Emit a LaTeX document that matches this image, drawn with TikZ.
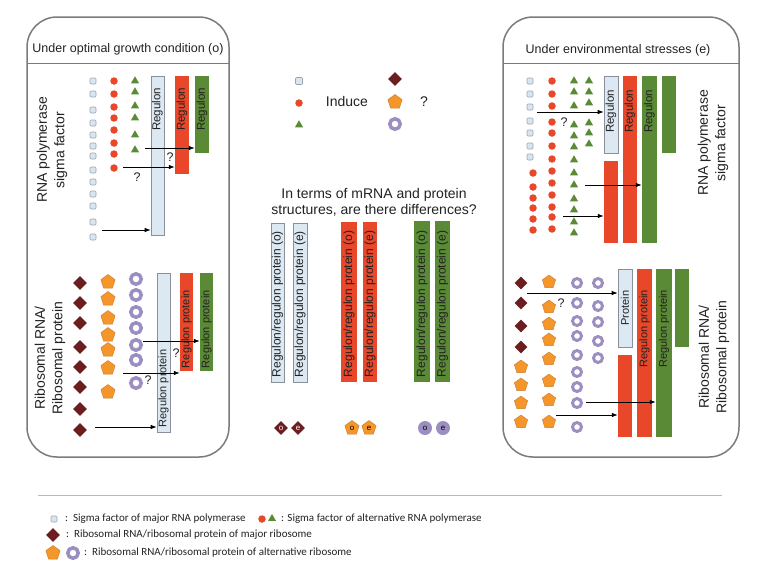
\documentclass[tikz,border=0pt]{standalone}
\usepackage{fontspec}
\setmainfont{Liberation Sans}
\newfontfamily\legfont{Carlito}
\usetikzlibrary{shapes.geometric,arrows.meta}
\definecolor{panelgray}{HTML}{7F7A75}
\definecolor{sqfill}{HTML}{D9E6F0}
\definecolor{sqborder}{HTML}{98A6B3}
\definecolor{barblue}{HTML}{DCE8F2}
\definecolor{bargray}{HTML}{8A9099}
\definecolor{redA}{HTML}{E9472A}
\definecolor{greenA}{HTML}{5A8A35}
\definecolor{darkredA}{HTML}{6B1D20}
\definecolor{orangeA}{HTML}{F5962B}
\definecolor{orangeB}{HTML}{C97A2A}
\definecolor{lavA}{HTML}{9D8EC1}
\definecolor{legline}{HTML}{E8A3A3}
\definecolor{txtA}{HTML}{222222}
\begin{document}
\begin{tikzpicture}[x=1pt,y=-1pt,
  panel/.style={draw=panelgray, line width=1.5pt, rounded corners=30pt},
  sepline/.style={draw=panelgray, line width=0.8pt},
  sq/.style={rectangle, draw=sqborder, fill=sqfill, minimum size=6pt, inner sep=0pt, rounded corners=1pt, line width=0.6pt},
  rdot/.style={circle, fill=redA, minimum size=7.5pt, inner sep=0pt},
  tri/.style={regular polygon, regular polygon sides=3, fill=greenA, minimum size=9.5pt, inner sep=0pt},
  dia/.style={diamond, fill=darkredA, minimum width=14pt, minimum height=14pt, inner sep=0pt},
  pent/.style={regular polygon, regular polygon sides=5, fill=orangeA, draw=orangeB, line width=0.4pt, minimum size=15pt, inner sep=0pt},
  ring/.style={circle, draw=lavA, line width=3.5pt, fill=white, minimum size=10.5pt, inner sep=0pt},
  rings/.style={circle, draw=lavA, line width=3pt, fill=white, minimum size=9pt, inner sep=0pt},
  bluebar/.style={rectangle, draw=bargray, fill=barblue, inner sep=0pt, line width=0.6pt},
  redbar/.style={rectangle, fill=redA, inner sep=0pt},
  greenbar/.style={rectangle, fill=greenA, inner sep=0pt},
  bartxt/.style={inner sep=0pt, text=txtA, font=\fontsize{11.5}{12}\selectfont},
  bartxtp/.style={inner sep=0pt, text=txtA, font=\fontsize{11}{12}\selectfont},
  bartxtc/.style={inner sep=0pt, text=txtA, font=\fontsize{12}{13}\selectfont},
  sidelbl/.style={rotate=90, align=center, text=txtA, inner sep=0pt, font=\fontsize{14}{17.5}\selectfont},
  ttl/.style={text=txtA, inner sep=0pt, font=\fontsize{12.5}{14}\selectfont},
  qm/.style={text=txtA, inner sep=0pt, font=\fontsize{12.5}{14}\selectfont},
  arr/.style={-{Latex[length=6pt,width=4.5pt]}, line width=0.8pt, draw=black},
  legtxt/.style={anchor=west, inner sep=0pt, text=txtA, font=\legfont\fontsize{11}{12}\selectfont}
]
\useasboundingbox (0,0) rectangle (766,574);

% ---------------- left panel ----------------
\draw[panel] (27,17) rectangle (229,457);
\coordinate (lsepA) at (27,63);
\coordinate (lsepB) at (229,63);
\draw[sepline] (lsepA) -- (lsepB);
\node[ttl] (ltitle) at (128,49) {Under optimal growth condition (o)};

\node[sidelbl] (lside1) at (52,150) {RNA polymerase\\sigma factor};
\node[sidelbl] (lside2) at (50,358) {Ribosomal RNA/\\Ribosomal protein};

% top bars
\node[bluebar, minimum width=13pt, minimum height=159pt] (ltb) at (157.5,155.5) {};
\node[redbar, minimum width=14pt, minimum height=98pt] (ltr) at (182,125) {};
\node[greenbar, minimum width=14pt, minimum height=77pt] (ltg) at (202,114.5) {};
\node[bartxt, rotate=90, anchor=east] (ltbt) at ([yshift=-12pt]ltb.north) {Regulon};
\node[bartxt, rotate=90, anchor=east] (ltrt) at ([yshift=-12pt]ltr.north) {Regulon};
\node[bartxt, rotate=90, anchor=east] (ltgt) at ([yshift=-12pt]ltg.north) {Regulon};

\foreach \yy [count=\i] in {81,94,110,123,135,146,156,170,182,194,206,222,237}
  \node[sq] (lsq\i) at (93,\yy) {};
\foreach \yy [count=\i] in {81,94,107,118,130,143,154,168}
  \node[rdot] (lrd\i) at (114,\yy) {};
\foreach \yy [count=\i] in {81,92,106,118,135,150}
  \node[tri] (ltr\i) at (135,\yy) {};

\coordinate (la1) at (145,148);
\coordinate (la2) at (123,167);
\coordinate (la3) at (102,230);
\draw[arr] (la1) -- (la1 -| ltg.west);
\draw[arr] (la2) -- (la2 -| ltr.west);
\draw[arr] (la3) -- (la3 -| ltb.west);
\node[qm] (lq1) at (170,157) {?};
\node[qm] (lq2) at (137,177) {?};

% bottom bars
\node[bluebar, minimum width=13pt, minimum height=159pt] (lbb) at (163.5,352.5) {};
\node[redbar, minimum width=13pt, minimum height=98pt] (lbr) at (186.5,322) {};
\node[greenbar, minimum width=13pt, minimum height=98pt] (lbg) at (206.5,322) {};
\node[bartxtp, rotate=90, anchor=west] (lbbt) at ([yshift=5pt]lbb.south) {Regulon protein};
\node[bartxtp, rotate=90, anchor=west] (lbrt) at ([yshift=3pt]lbr.south) {Regulon protein};
\node[bartxtp, rotate=90, anchor=west] (lbgt) at ([yshift=3pt]lbg.south) {Regulon protein};

\foreach \yy [count=\i] in {283,303,323,347,367,387,409,430}
  \node[dia] (ldi\i) at (80,\yy) {};
\foreach \yy [count=\i] in {282,299,318,335,350,368,392}
  \node[pent] (lpe\i) at (108,\yy) {};
\foreach \yy [count=\i] in {279,295,312,328,345,360,383}
  \node[ring] (lri\i) at (136,\yy) {};

\coordinate (lb1) at (143,341);
\coordinate (lb2) at (123,373);
\coordinate (lb3) at (95,427);
\draw[arr] (lb1) -- (lb1 -| lbg.west);
\draw[arr] (lb2) -- (lb2 -| lbr.west);
\draw[arr] (lb3) -- (lb3 -| lbb.west);
\node[qm] (lq3) at (176,353) {?};
\node[qm] (lq4) at (148,380) {?};

% ---------------- center ----------------
\node[sq, minimum size=7pt] (csq) at (299,81) {};
\node[rdot] (crd) at (299,103) {};
\node[tri] (ctr) at (299,125) {};
\node[inner sep=0pt, text=txtA, font=\fontsize{14}{16}\selectfont] (cind) at (347,101) {Induce};
\node[dia] (cdi) at (395,79) {};
\node[pent] (cpe) at (395,102) {};
\node[ring] (cri) at (395,124) {};
\node[qm, font=\fontsize{14}{16}\selectfont] (cq) at (424,102) {?};

\node[align=center, inner sep=0pt, text=txtA, font=\fontsize{14}{16}\selectfont] (cquest) at (374,202)
  {In terms of mRNA and protein\\structures, are there differences?};

\node[bluebar, minimum width=13pt, minimum height=159pt] (cb1) at (277.5,302.5) {};
\node[bluebar, minimum width=14pt, minimum height=159pt] (cb2) at (300,302.5) {};
\node[redbar, minimum width=16pt, minimum height=160pt] (cr1) at (349,302) {};
\node[redbar, minimum width=14pt, minimum height=160pt] (cr2) at (370,302) {};
\node[greenbar, minimum width=16pt, minimum height=161pt] (cg1) at (422,301.5) {};
\node[greenbar, minimum width=15pt, minimum height=161pt] (cg2) at (442.5,301.5) {};
\node[bartxtc, rotate=90, anchor=west] (cb1t) at ([yshift=5pt]cb1.south) {Regulon/regulon protein (o)};
\node[bartxtc, rotate=90, anchor=west] (cb2t) at ([yshift=5pt]cb2.south) {Regulon/regulon protein (e)};
\node[bartxtc, rotate=90, anchor=west] (cr1t) at ([yshift=5pt]cr1.south) {Regulon/regulon protein (o)};
\node[bartxtc, rotate=90, anchor=west] (cr2t) at ([yshift=5pt]cr2.south) {Regulon/regulon protein (e)};
\node[bartxtc, rotate=90, anchor=west] (cg1t) at ([yshift=5pt]cg1.south) {Regulon/regulon protein (o)};
\node[bartxtc, rotate=90, anchor=west] (cg2t) at ([yshift=5pt]cg2.south) {Regulon/regulon protein (e)};

\node[dia, minimum width=14pt, minimum height=14pt, text=white, font=\fontsize{8}{8}\selectfont] (cdo) at (281,428) {o};
\node[dia, minimum width=14pt, minimum height=14pt, text=white, font=\fontsize{8}{8}\selectfont] (cde) at (298,428) {e};
\node[pent, text=black, font=\fontsize{8}{8}\selectfont] (cpo) at (352,428) {o};
\node[pent, text=black, font=\fontsize{8}{8}\selectfont] (cpeo) at (369,428) {e};
\node[circle, fill=lavA, minimum size=14pt, inner sep=0pt, text=black, font=\fontsize{8}{8}\selectfont] (cco) at (425,428) {o};
\node[circle, fill=lavA, minimum size=14pt, inner sep=0pt, text=black, font=\fontsize{8}{8}\selectfont] (cce) at (443,428) {e};

% ---------------- right panel ----------------
\draw[panel] (503,17) rectangle (739,457);
\coordinate (rsepA) at (503,63);
\coordinate (rsepB) at (739,63);
\draw[sepline] (rsepA) -- (rsepB);
\node[ttl] (rtitle) at (618,50) {Under environmental stresses (e)};

\node[sidelbl] (rside1) at (713,143) {RNA polymerase\\sigma factor};
\node[sidelbl] (rside2) at (714,357) {Ribosomal RNA/\\Ribosomal protein};

% top bars
\node[bluebar, minimum width=14pt, minimum height=77pt] (rtb) at (611,114.5) {};
\node[redbar, minimum width=14pt, minimum height=167pt] (rtr) at (630,159.5) {};
\node[greenbar, minimum width=15pt, minimum height=167pt] (rtg) at (649.5,159.5) {};
\node[greenbar, minimum width=14pt, minimum height=77pt] (rtg2) at (669,114.5) {};
\node[redbar, minimum width=14pt, minimum height=82pt] (rtr2) at (611,202) {};
\node[bartxt, rotate=90, anchor=east] (rtbt) at ([yshift=-14pt]rtb.north) {Regulon};
\node[bartxt, rotate=90, anchor=east] (rtrt) at ([yshift=-14pt]rtr.north) {Regulon};
\node[bartxt, rotate=90, anchor=east] (rtgt) at ([yshift=-14pt]rtg.north) {Regulon};

\foreach \yy [count=\i] in {81,94,107,121,133,146,157}
  \node[sq] (rsq\i) at (530,\yy) {};
\foreach \yy [count=\i] in {173,187,198,208,219,230}
  \node[rdot] (rrda\i) at (533,\yy) {};
\foreach \yy [count=\i] in {81,94,106,122,133,146,159,171,183,195,207,217,229}
  \node[rdot] (rrdb\i) at (552,\yy) {};
\foreach \yy [count=\i] in {81,92,106,125,136,147,160,173,185,199,210,222,233}
  \node[tri] (rtra\i) at (574,\yy) {};
\foreach \yy [count=\i] in {81,92,103,123,133,144}
  \node[tri] (rtrb\i) at (589,\yy) {};

\coordinate (ra1) at (537,112);
\coordinate (ra2) at (585,185);
\coordinate (ra3) at (563,216);
\draw[arr] (ra1) -- (ra1 -| rtb.west);
\draw[arr] (ra2) -- (ra2 -| rtg.west);
\draw[arr] (ra3) -- (ra3 -| rtr2.west);
\node[qm] (rq1) at (564,122) {?};

% bottom bars
\node[bluebar, minimum width=14pt, minimum height=78pt] (rbb) at (625,308) {};
\node[redbar, minimum width=15pt, minimum height=168pt] (rbr) at (644.5,353) {};
\node[greenbar, minimum width=16pt, minimum height=168pt] (rbg) at (664,353) {};
\node[greenbar, minimum width=14pt, minimum height=78pt] (rbg2) at (682,308) {};
\node[redbar, minimum width=14pt, minimum height=82pt] (rbr2) at (625,396) {};
\node[bartxtp, rotate=90] (rbbt) at (rbb.center) {Protein};
\node[bartxtp, rotate=90, anchor=east] (rbrt) at ([yshift=-21pt]rbr.north) {Regulon protein};
\node[bartxtp, rotate=90, anchor=east] (rbgt) at ([yshift=-21pt]rbg.north) {Regulon protein};

\foreach \yy [count=\i] in {283,303,326,347}
  \node[dia, minimum width=13pt, minimum height=13pt] (rdi\i) at (521,\yy) {};
\foreach \yy [count=\i] in {367,385,403,422}
  \node[pent, minimum size=14pt] (rpea\i) at (521,\yy) {};
\foreach \yy [count=\i] in {282,307,324,340,359,381,400,422}
  \node[pent, minimum size=14pt] (rpeb\i) at (549,\yy) {};
\foreach \yy [count=\i] in {283,303,321,336,355,372,387,403,427}
  \node[rings] (rria\i) at (577,\yy) {};
\foreach \yy [count=\i] in {283,306,322,341,358}
  \node[rings] (rrib\i) at (598,\yy) {};

\coordinate (rb1) at (527,293);
\coordinate (rb2) at (586,402);
\coordinate (rb3) at (556,415);
\draw[arr] (rb1) -- (rb1 -| rbb.west);
\draw[arr] (rb2) -- (rb2 -| rbg.west);
\draw[arr] (rb3) -- (rb3 -| rbr2.west);
\node[qm] (rq2) at (561,303) {?};

% ---------------- legend ----------------
\coordinate (llA) at (38,495);
\coordinate (llB) at (722,495);
\draw[legline, line width=1pt] (llA) -- (llB);

\node[sq] (gsq) at (54,519) {};
\node[legtxt] (gt1) at (65,519) {:\ \ Sigma factor of major RNA polymerase};
\node[rdot] (grd) at (262,519) {};
\node[tri, minimum size=9pt] (gtr) at (272,518.5) {};
\node[legtxt] (gt2) at (281,519) {: Sigma factor of alternative RNA polymerase};
\node[dia] (gdi) at (53,535) {};
\node[legtxt] (gt3) at (66,535) {:\ \ Ribosomal RNA/ribosomal protein of major ribosome};
\node[pent] (gpe) at (53,553) {};
\node[ring] (gri) at (73,553) {};
\node[legtxt] (gt4) at (84,553) {:\ \ Ribosomal RNA/ribosomal protein of alternative ribosome};
\end{tikzpicture}
\end{document}
